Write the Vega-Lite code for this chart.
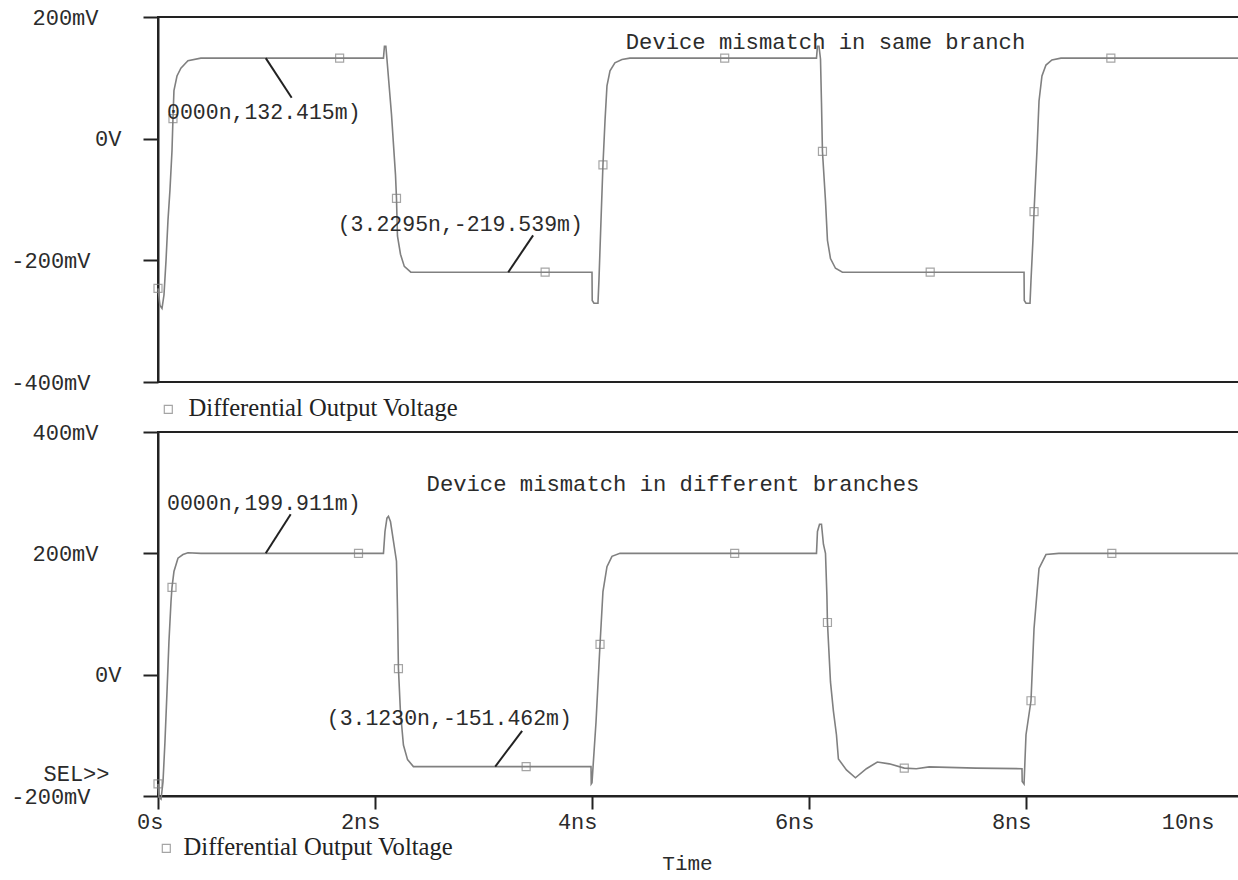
{
  "$schema": "https://vega.github.io/schema/vega-lite/v6.json",
  "background": "white",
  "padding": {"left": 9, "top": 5, "right": 0, "bottom": 0},
  "bounds": "flush",
  "spacing": 50,
  "datasets": {
    "topWave": [
      {"t":0,"v":-246},{"t":0.018,"v":-274},{"t":0.037,"v":-279},{"t":0.055,"v":-257},{"t":0.074,"v":-200},{"t":0.092,"v":-134},{"t":0.11,"v":-85},{"t":0.129,"v":-20},{"t":0.138,"v":33},{"t":0.147,"v":79},{"t":0.175,"v":103},{"t":0.211,"v":116},{"t":0.276,"v":128},{"t":0.395,"v":132.4},{"t":1.674,"v":132.4},{"t":2.078,"v":132.4},{"t":2.087,"v":152},{"t":2.1,"v":152},{"t":2.11,"v":131},{"t":2.152,"v":40},{"t":2.189,"v":-60},{"t":2.198,"v":-98},{"t":2.207,"v":-160},{"t":2.235,"v":-190},{"t":2.27,"v":-210},{"t":2.33,"v":-219.5},{"t":3.568,"v":-219.5},{"t":4.0,"v":-219.5},{"t":4.002,"v":-266},{"t":4.018,"v":-270.5},{"t":4.055,"v":-270.5},{"t":4.064,"v":-233},{"t":4.083,"v":-134},{"t":4.101,"v":-43},{"t":4.12,"v":30},{"t":4.138,"v":87},{"t":4.166,"v":111.5},{"t":4.211,"v":124.6},{"t":4.276,"v":130},{"t":4.349,"v":132.4},{"t":5.223,"v":132.4},{"t":6.069,"v":132.4},{"t":6.078,"v":152},{"t":6.092,"v":152},{"t":6.106,"v":131},{"t":6.115,"v":60},{"t":6.124,"v":-21},{"t":6.152,"v":-102},{"t":6.17,"v":-167},{"t":6.198,"v":-197},{"t":6.244,"v":-213},{"t":6.308,"v":-219.5},{"t":7.117,"v":-219.5},{"t":7.982,"v":-219.5},{"t":7.984,"v":-266},{"t":8.0,"v":-270.5},{"t":8.037,"v":-270.5},{"t":8.046,"v":-233},{"t":8.064,"v":-167},{"t":8.074,"v":-120},{"t":8.101,"v":-20},{"t":8.12,"v":62},{"t":8.147,"v":103},{"t":8.184,"v":121},{"t":8.239,"v":129.5},{"t":8.322,"v":132.4},{"t":8.782,"v":132.4},{"t":10,"v":132.4}
    ],
    "topMarkers": [
      {"t":0,"v":-246,"series":"Differential Output Voltage"},{"t":0.138,"v":33,"series":"Differential Output Voltage"},{"t":1.674,"v":132.4,"series":"Differential Output Voltage"},{"t":2.198,"v":-98,"series":"Differential Output Voltage"},{"t":3.568,"v":-219.5,"series":"Differential Output Voltage"},{"t":4.101,"v":-43,"series":"Differential Output Voltage"},{"t":5.223,"v":132.4,"series":"Differential Output Voltage"},{"t":6.124,"v":-21,"series":"Differential Output Voltage"},{"t":7.117,"v":-219.5,"series":"Differential Output Voltage"},{"t":8.074,"v":-120,"series":"Differential Output Voltage"},{"t":8.782,"v":132.4,"series":"Differential Output Voltage"}
    ],
    "topLeaders": [
      {"t":0.993,"v":132.4,"t2":1.232,"v2":67.2},
      {"t":3.228,"v":-219.5,"t2":3.457,"v2":-159}
    ],
    "topNotes": [
      {"t":0.975,"v":42.6,"label":"0000n,132.415m)"},
      {"t":2.786,"v":-142.6,"label":"(3.2295n,-219.539m)"},
      {"t":6.152,"v":159,"label":"Device mismatch in same branch"}
    ],
    "bottomWave": [
      {"t":0,"v":-180},{"t":0.009,"v":-202},{"t":0.028,"v":-205},{"t":0.046,"v":-177},{"t":0.064,"v":-111},{"t":0.083,"v":-28},{"t":0.101,"v":55},{"t":0.12,"v":121},{"t":0.129,"v":144},{"t":0.147,"v":170},{"t":0.184,"v":192},{"t":0.23,"v":198},{"t":0.276,"v":201},{"t":0.395,"v":200},{"t":1.848,"v":200},{"t":2.078,"v":200},{"t":2.092,"v":236},{"t":2.11,"v":258},{"t":2.124,"v":261},{"t":2.143,"v":252},{"t":2.17,"v":220},{"t":2.198,"v":187},{"t":2.207,"v":110},{"t":2.216,"v":10},{"t":2.234,"v":-60},{"t":2.262,"v":-116},{"t":2.3,"v":-140},{"t":2.354,"v":-151.5},{"t":3.393,"v":-151.5},{"t":3.991,"v":-151.5},{"t":3.993,"v":-180},{"t":4.0,"v":-178},{"t":4.037,"v":-78},{"t":4.074,"v":50},{"t":4.101,"v":137},{"t":4.138,"v":178},{"t":4.184,"v":195},{"t":4.258,"v":200},{"t":5.315,"v":200},{"t":6.069,"v":200},{"t":6.078,"v":236},{"t":6.097,"v":248},{"t":6.115,"v":248},{"t":6.133,"v":215},{"t":6.152,"v":200},{"t":6.165,"v":130},{"t":6.17,"v":86},{"t":6.198,"v":-12},{"t":6.225,"v":-60},{"t":6.253,"v":-99},{"t":6.271,"v":-139},{"t":6.345,"v":-157},{"t":6.428,"v":-170},{"t":6.529,"v":-155},{"t":6.63,"v":-144},{"t":6.74,"v":-147},{"t":6.878,"v":-154},{"t":6.989,"v":-155},{"t":7.108,"v":-152},{"t":7.54,"v":-154},{"t":7.963,"v":-155},{"t":7.965,"v":-176},{"t":7.982,"v":-180},{"t":8.0,"v":-99},{"t":8.046,"v":-43},{"t":8.074,"v":76},{"t":8.12,"v":175},{"t":8.184,"v":198},{"t":8.303,"v":200},{"t":8.791,"v":200},{"t":10,"v":200}
    ],
    "bottomMarkers": [
      {"t":0,"v":-180,"series":"Differential Output Voltage"},{"t":0.129,"v":144,"series":"Differential Output Voltage"},{"t":1.848,"v":200,"series":"Differential Output Voltage"},{"t":2.216,"v":10,"series":"Differential Output Voltage"},{"t":3.393,"v":-151.5,"series":"Differential Output Voltage"},{"t":4.074,"v":50,"series":"Differential Output Voltage"},{"t":5.315,"v":200,"series":"Differential Output Voltage"},{"t":6.17,"v":86,"series":"Differential Output Voltage"},{"t":6.878,"v":-154,"series":"Differential Output Voltage"},{"t":8.046,"v":-43,"series":"Differential Output Voltage"},{"t":8.791,"v":200,"series":"Differential Output Voltage"}
    ],
    "bottomLeaders": [
      {"t":0.993,"v":200,"t2":1.223,"v2":264.5},
      {"t":3.108,"v":-151.5,"t2":3.356,"v2":-92.6}
    ],
    "bottomNotes": [
      {"t":0.975,"v":281,"label":"0000n,199.911m)"},
      {"t":2.685,"v":-72.7,"label":"(3.1230n,-151.462m)"},
      {"t":4.746,"v":314,"label":"Device mismatch in different branches"}
    ]
  },
  "vconcat": [
    {
      "width": 1085,
      "height": 365,
      "layer": [
        {
          "data": {"name": "topWave"},
          "mark": {"type": "line", "color": "#808080", "strokeWidth": 1.6},
          "encoding": {
            "x": {"field": "t", "type": "quantitative", "scale": {"domain": [0, 10], "nice": false, "zero": false}, "axis": null},
            "y": {"field": "v", "type": "quantitative", "scale": {"domain": [-400, 200], "nice": false, "zero": false},
              "axis": {"values": [-400, -200, 0, 200], "title": null,
                "labelExpr": "datum.value == 0 ? '0V' : datum.value + 'mV'",
                "labelPadding": {"condition": [{"test": "datum.value == 0", "value": 22}, {"test": "datum.value < 0", "value": 53}], "value": 45}}}
          }
        },
        {
          "data": {"name": "topMarkers"},
          "mark": {"type": "point", "shape": "square", "filled": false, "size": 64, "strokeWidth": 1.2},
          "encoding": {
            "x": {"field": "t", "type": "quantitative"},
            "y": {"field": "v", "type": "quantitative"},
            "color": {"field": "series", "type": "nominal", "scale": {"range": ["#808080"]},
              "legend": {"orient": "none", "legendX": -2, "legendY": 380, "title": null, "labelOffset": 8}}
          }
        },
        {
          "data": {"name": "topLeaders"},
          "mark": {"type": "rule", "color": "#222", "strokeWidth": 2},
          "encoding": {
            "x": {"field": "t", "type": "quantitative"},
            "y": {"field": "v", "type": "quantitative"},
            "x2": {"field": "t2"},
            "y2": {"field": "v2"}
          }
        },
        {
          "data": {"name": "topNotes"},
          "mark": {"type": "text", "font": "Liberation Mono", "color": "#2b2b2b", "align": "center", "baseline": "middle"},
          "encoding": {
            "x": {"field": "t", "type": "quantitative"},
            "y": {"field": "v", "type": "quantitative"},
            "text": {"field": "label"},
            "size": {"condition": {"test": "indexof(datum.label, 'Device') == 0", "value": 22.2}, "value": 21.5}
          }
        }
      ]
    },
    {
      "width": 1085,
      "height": 364,
      "layer": [
        {
          "data": {"name": "bottomWave"},
          "mark": {"type": "line", "color": "#808080", "strokeWidth": 1.6},
          "encoding": {
            "x": {"field": "t", "type": "quantitative", "scale": {"domain": [0, 10], "nice": false, "zero": false},
              "axis": {"values": [0, 2, 4, 6, 8, 10], "tickSize": 13, "labelAlign": "right", "labelBaseline": "top", "labelPadding": 2,
                "labelExpr": "datum.value == 0 ? '0s' : datum.value + 'ns'",
                "labelOffset": {"condition": {"test": "datum.value == 10", "value": -29}, "value": 5},
                "title": "Time", "titleX": 529, "titleY": 67, "titleFontSize": 21, "titleBaseline": "middle", "titleAlign": "center"}},
            "y": {"field": "v", "type": "quantitative", "scale": {"domain": [-200, 400], "nice": false, "zero": false},
              "axis": {"values": [-200, -163, 0, 200, 400], "title": null,
                "labelExpr": "datum.value == -163 ? 'SEL>>' : datum.value == 0 ? '0V' : datum.value + 'mV'",
                "tickOpacity": {"condition": {"test": "datum.value == -163", "value": 0}, "value": 1},
                "labelPadding": {"condition": [{"test": "datum.value == 0", "value": 22}, {"test": "datum.value == -163", "value": 34}, {"test": "datum.value < 0", "value": 53}], "value": 45}}}
          }
        },
        {
          "data": {"name": "bottomMarkers"},
          "mark": {"type": "point", "shape": "square", "filled": false, "size": 64, "strokeWidth": 1.2},
          "encoding": {
            "x": {"field": "t", "type": "quantitative"},
            "y": {"field": "v", "type": "quantitative"},
            "color": {"field": "series", "type": "nominal", "scale": {"range": ["#808080"]},
              "legend": {"orient": "none", "legendX": -4, "legendY": 404, "title": null, "labelOffset": 5}}
          }
        },
        {
          "data": {"name": "bottomLeaders"},
          "mark": {"type": "rule", "color": "#222", "strokeWidth": 2},
          "encoding": {
            "x": {"field": "t", "type": "quantitative"},
            "y": {"field": "v", "type": "quantitative"},
            "x2": {"field": "t2"},
            "y2": {"field": "v2"}
          }
        },
        {
          "data": {"name": "bottomNotes"},
          "mark": {"type": "text", "font": "Liberation Mono", "color": "#2b2b2b", "align": "center", "baseline": "middle"},
          "encoding": {
            "x": {"field": "t", "type": "quantitative"},
            "y": {"field": "v", "type": "quantitative"},
            "text": {"field": "label"},
            "size": {"condition": {"test": "indexof(datum.label, 'Device') == 0", "value": 22.2}, "value": 21.5}
          }
        }
      ]
    }
  ],
  "resolve": {"scale": {"color": "independent"}, "legend": {"color": "independent"}},
  "config": {
    "view": {"stroke": "#222", "strokeWidth": 2},
    "axis": {
      "grid": false,
      "domainColor": "#222", "domainWidth": 2,
      "tickColor": "#222", "tickWidth": 2,
      "labelFont": "Liberation Mono", "labelFontSize": 22, "labelColor": "#2b2b2b",
      "labelFlush": false, "labelOverlap": false, "labelBound": false,
      "titleFont": "Liberation Mono", "titleFontSize": 22, "titleFontWeight": "normal", "titleColor": "#2b2b2b"
    },
    "axisY": {"tickSize": 15, "labelAlign": "right", "labelBaseline": "middle"},
    "legend": {
      "symbolType": "square", "symbolSize": 64, "symbolStrokeWidth": 1.2,
      "labelFont": "Liberation Serif", "labelFontSize": 24.6, "labelColor": "#222", "labelLimit": 0,
      "padding": 0
    }
  }
}
